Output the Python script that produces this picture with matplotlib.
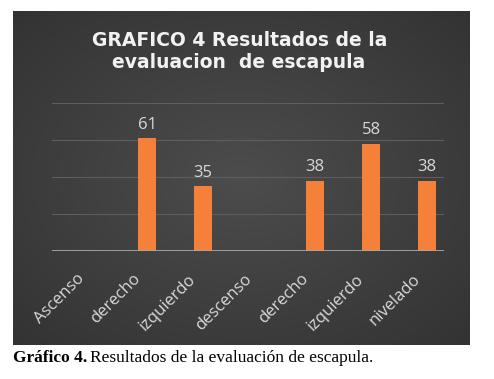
import numpy as np
import matplotlib.pyplot as plt

categorias = ["Ascenso", "derecho", "izquierdo", "descenso", "derecho", "izquierdo", "nivelado"]
valores = [np.nan, 61, 35, np.nan, 38, 58, 38]
yticks = [0, 20, 40, 60, 80]

W, H = 494, 379
fig = plt.figure(figsize=(W / 100, H / 100), dpi=100)
fig.patch.set_facecolor("white")

# dark panel with a soft radial gradient
panel = fig.add_axes([13 / W, 1 - 345 / H, 456 / W, 334 / H])
yy, xx = np.mgrid[-1:1:200j, -1:1:300j]
r = np.sqrt(xx ** 2 + yy ** 2) / np.sqrt(2)
grad = 0.30 - 0.10 * r
panel.imshow(np.dstack([grad, grad, grad]), aspect="auto", extent=[0, 1, 0, 1])
panel.axis("off")

ax = fig.add_axes([52 / W, 1 - 251 / H, 392 / W, 148 / H])
ax.set_facecolor("none")
x = np.arange(len(categorias))
ax.bar(x, valores, width=0.32, color="#f5803a", zorder=3)
for xi, v in zip(x, valores):
    if not np.isnan(v):
        ax.text(xi, v + 3, f"{v:g}", ha="center", va="bottom", color="#d9d9d9",
                fontsize=12, family="Open Sans")

ax.set_xlim(-0.7, 6.3)
ax.set_ylim(0, 80)
ax.set_yticks(yticks[1:])
ax.yaxis.grid(True, color="#5e5e5e", lw=0.8, zorder=0)
ax.axhline(0, color="#a8a8a8", lw=2, zorder=4)
for s in ax.spines.values():
    s.set_visible(False)
ax.tick_params(axis="y", left=False, labelleft=False)
ax.set_xticks([])

# rotated category labels, hanging below the baseline
for xi, lab in zip(x, categorias):
    ax.annotate(lab, xy=(xi, 0), xycoords="data", xytext=(-15, -20),
                textcoords="offset pixels", rotation=45, rotation_mode="anchor",
                ha="right", va="top", color="#d9d9d9", fontsize=12,
                family="Open Sans", annotation_clip=False)

fig.text(240 / W, 1 - 40 / H, "GRAFICO 4 Resultados de la", ha="center", va="center",
         color="#f2f2f2", fontsize=13.5, fontweight="bold", family="DejaVu Sans")
fig.text(239 / W, 1 - 63 / H, "evaluacion  de escapula", ha="center", va="center",
         color="#f2f2f2", fontsize=13.5, fontweight="bold", family="DejaVu Sans")

cap_y = 1 - 358 / H
t1 = fig.text(13 / W, cap_y, "Gráfico 4.", ha="left", va="center", fontsize=12.5,
              fontweight="bold", family="Liberation Serif")
fig.canvas.draw()
bb = t1.get_window_extent()
fig.text((bb.x1 + 3) / W, cap_y, "Resultados de la evaluación de escapula.", ha="left",
         va="center", fontsize=12.5, family="Liberation Serif")

fig.savefig("out.png", dpi=100)
